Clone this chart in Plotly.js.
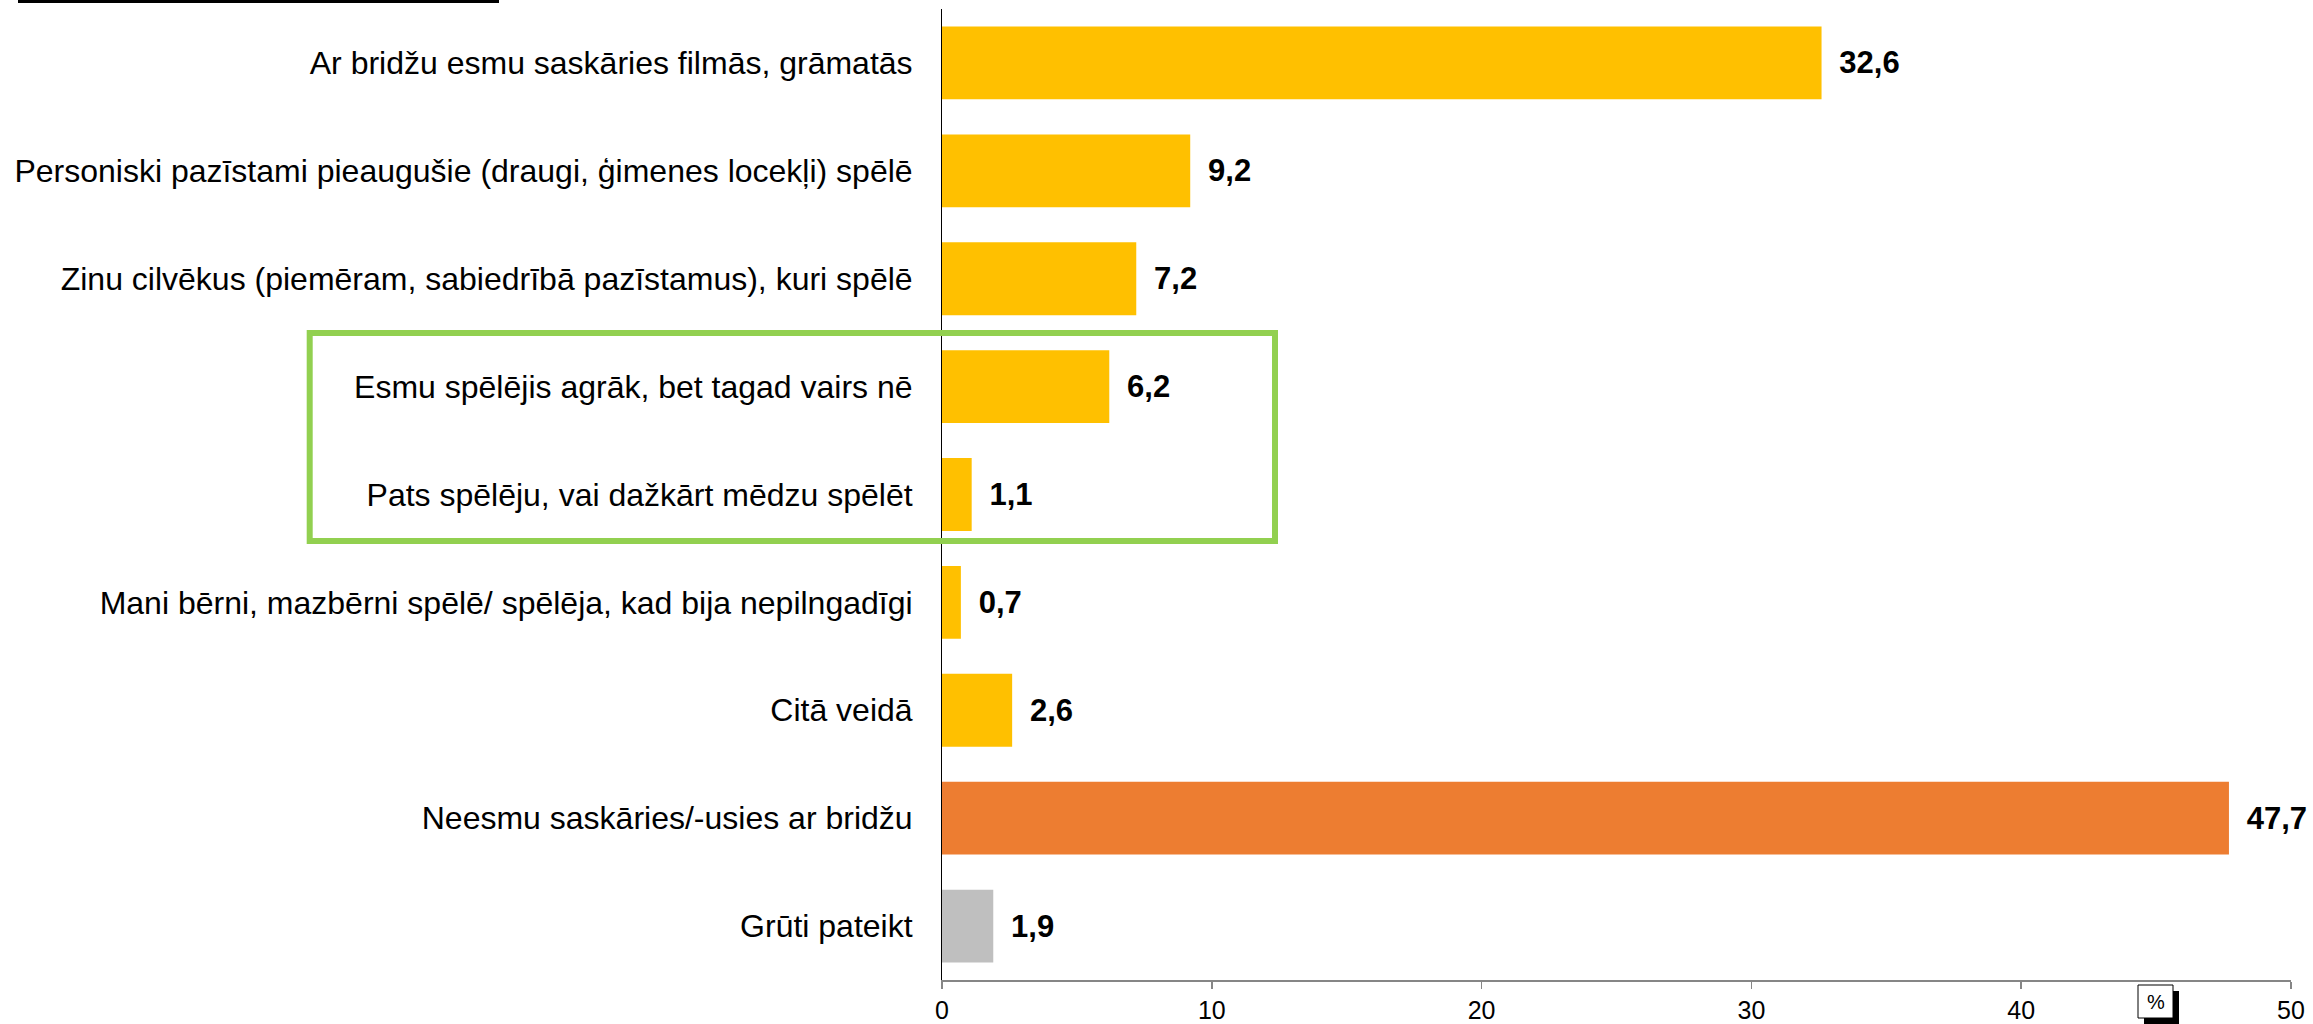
<!DOCTYPE html>
<html>
<head>
<meta charset="utf-8">
<script src="https://cdn.plot.ly/plotly-3.0.1.min.js"></script>
<style>html,body{margin:0;padding:0;background:#fff;}#chart{width:2313px;height:1024px;}</style>
</head>
<body>
<div id="chart"></div>
<script>
const categories = [
  "Ar bridžu esmu saskāries filmās, grāmatās",
  "Personiski pazīstami pieaugušie (draugi, ģimenes locekļi) spēlē",
  "Zinu cilvēkus (piemēram, sabiedrībā pazīstamus), kuri spēlē",
  "Esmu spēlējis agrāk, bet tagad vairs nē",
  "Pats spēlēju, vai dažkārt mēdzu spēlēt",
  "Mani bērni, mazbērni spēlē/ spēlēja, kad bija nepilngadīgi",
  "Citā veidā",
  "Neesmu saskāries/-usies ar bridžu",
  "Grūti pateikt"
];
const values = [32.6, 9.2, 7.2, 6.2, 1.1, 0.7, 2.6, 47.7, 1.9];
const xTicks = [0, 10, 20, 30, 40, 50];
const unitLabel = "%";

const W = 2313, H = 1024;
const M = {l: 942, r: 22, t: 9, b: 44};
const PW = W - M.l - M.r, PH = H - M.t - M.b;
const px = x => (x - M.l) / PW;
const py = y => (H - M.b - y) / PH;

const colors = categories.map((c, i) => i === 7 ? '#ED7D31' : (i === 8 ? '#BFBFBF' : '#FFC000'));
const labels = values.map(v => '\u00a0\u2009' + v.toFixed(1).replace('.', ','));

const trace = {
  type: 'bar',
  orientation: 'h',
  y: categories,
  x: values,
  marker: {color: colors},
  text: labels,
  textposition: 'outside',
  cliponaxis: false,
  constraintext: 'none',
  textfont: {family: 'Liberation Sans, Arial, sans-serif', size: 31, color: '#000', weight: 'bold'},
  hoverinfo: 'none'
};

const layout = {
  width: W, height: H,
  margin: M,
  paper_bgcolor: '#fff', plot_bgcolor: '#fff',
  showlegend: false,
  bargap: 0.325,
  font: {family: 'Liberation Sans, Arial, sans-serif', color: '#000'},
  xaxis: {
    range: [0, 50], tickvals: xTicks, showgrid: false, zeroline: false,
    showline: true, linecolor: '#868686', linewidth: 1.5,
    ticks: 'outside', ticklen: 7, tickcolor: '#868686', tickwidth: 1.5,
    tickfont: {size: 25, color: '#000'}, fixedrange: true
  },
  yaxis: {
    type: 'category', autorange: 'reversed', showgrid: false, zeroline: false,
    showline: true, linecolor: '#000', linewidth: 1,
    ticks: '', ticklabelstandoff: 22,
    tickfont: {size: 32, color: '#000'}, fixedrange: true
  },
  shapes: [
    {type: 'rect', xref: 'paper', yref: 'paper', x0: px(309.7), x1: px(1275), y0: py(541), y1: py(333),
     line: {color: '#92D050', width: 6}, fillcolor: 'rgba(0,0,0,0)'},
    {type: 'line', xref: 'paper', yref: 'paper', x0: px(18), x1: px(499), y0: py(1.5), y1: py(1.5),
     line: {color: '#000', width: 3}},
    {type: 'rect', xref: 'paper', yref: 'paper', x0: px(2144), x1: px(2179), y0: py(1024), y1: py(991),
     line: {width: 0}, fillcolor: '#000'},
    {type: 'rect', xref: 'paper', yref: 'paper', x0: px(2138), x1: px(2173), y0: py(1018), y1: py(985),
     line: {color: '#000', width: 1}, fillcolor: '#fff'}
  ],
  annotations: [
    {xref: 'paper', yref: 'paper', x: px(2155.5), y: py(1001.5), text: unitLabel, showarrow: false,
     xanchor: 'center', yanchor: 'middle', font: {size: 20, color: '#000'}}
  ]
};

Plotly.newPlot('chart', [trace], layout, {displayModeBar: false, staticPlot: true});
</script>
</body>
</html>
